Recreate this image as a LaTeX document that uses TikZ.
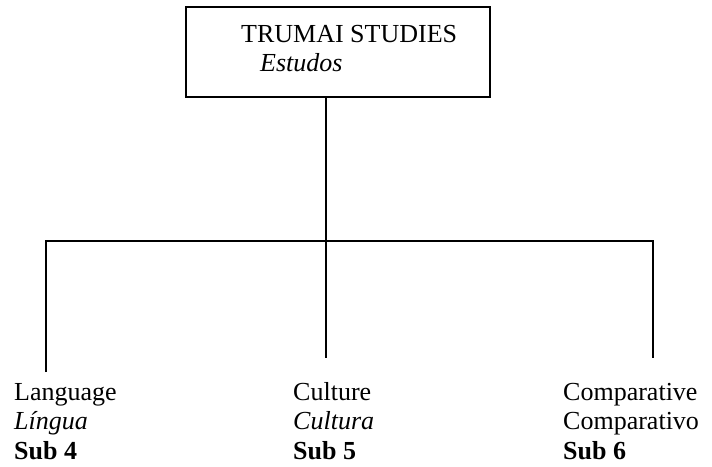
\documentclass[tikz,border=0pt]{standalone}
\usepackage{fontspec}
\setmainfont{Liberation Serif}
\begin{document}
\begin{tikzpicture}[x=1pt,y=-1pt,
  line/.style={line width=2pt},
  lbl/.style={anchor=base west,inner sep=0pt,align=left,font=\fontsize{26}{29.5}\selectfont}]
\useasboundingbox (0,0) rectangle (712,466);
\node[draw,line width=2pt,minimum width=304pt,minimum height=90pt,inner sep=0pt] (box) at (338,52) {};
\node[lbl] (title) at (241,42) {TRUMAI STUDIES};
\node[lbl] (est) at (260,71) {\itshape Estudos};
\node[lbl] (lang) at (14,459) {Language\\\textit{Língua}\\\textbf{Sub 4}};
\node[lbl] (cult) at (293,459) {Culture\\\textit{Cultura}\\\textbf{Sub 5}};
\node[lbl] (comp) at (563,459) {Comparative\\Comparativo\\\textbf{Sub 6}};
\coordinate (stem) at (326,97);
\coordinate (jl) at (46,241);
\coordinate (jr) at (653,241);
\coordinate (el) at (46,372);
\coordinate (em) at (326,358);
\coordinate (er) at (653,358);
\draw[line] (stem) -- (em);
\draw[line] (el) -- (jl) -- (jr) -- (er);
\end{tikzpicture}
\end{document}
